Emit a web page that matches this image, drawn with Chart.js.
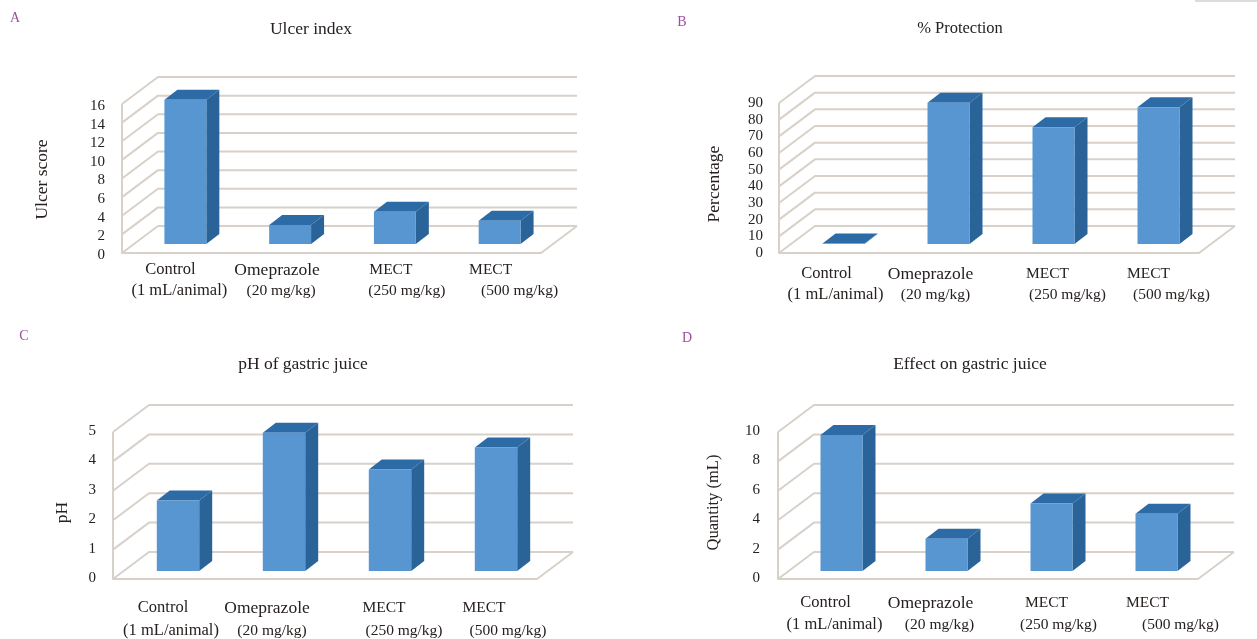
<!DOCTYPE html>
<html><head><meta charset="utf-8">
<script src="https://cdn.jsdelivr.net/npm/chart.js@4/dist/chart.umd.js"></script>
<style>
html,body{margin:0;padding:0;background:#fff;overflow:hidden;width:1257px;height:639px}
canvas{position:absolute}
.letter{position:absolute;font:14px "Liberation Serif",serif;color:#9c4f9e;transform:translate(-50%,-50%)}
#corner{position:absolute;left:1195px;top:0;width:62px;height:2px;background:#dcdcdc}
</style></head><body>
<div id="corner"></div>
<script>
const categoryNames = ["Control","Omeprazole","MECT","MECT"];
const categoryDoses = ["(1 mL/animal)","(20 mg/kg)","(250 mg/kg)","(500 mg/kg)"];
const ulcerScore = [15.5,2.05,3.45,2.5];
const protection = [0.3,84.8,70,82];
const gastricPh = [2.4,4.7,3.45,4.2];
const gastricQuantity = [9.25,2.2,4.6,3.9];

const nameFontSizes = [16.5,17.5,15.5,15.5];
const doseFontSizes = [16.5,15.5,15.5,15.5];
const FONT = "'Liberation Serif', serif";
const TEXT = "#26211f", WALL = "#d8d1ca", FRONT = "#5796d1", SIDE = "#2a6398", TOP = "#2d6ba6";

const wall3d = {
  id:"wall3d",
  afterLayout(chart,_a,o){
    const y = chart.scales.y;
    if(y._shifted) return; y._shifted = true;
    const title = y.drawTitle, labels = y.drawLabels;
    y.drawTitle = function(...a){const c=this.ctx;c.save();c.translate(0,o.titleShift);title.apply(this,a);c.restore();};
    y.drawLabels = function(...a){const c=this.ctx;c.save();c.translate(0,o.labelShift);labels.apply(this,a);c.restore();};
    const tb = chart.titleBlock, td = tb.draw;
    tb.draw = function(...a){const c=this.ctx;c.save();c.translate(o.chartTitleShift,0);td.apply(this,a);c.restore();};
  },
  beforeDatasetsDraw(chart,_a,o){
    const {ctx,chartArea:{left,right},scales:{x,y}} = chart;
    const base = y.getPixelForValue(y.min), top = y.getPixelForValue(y.max);
    ctx.save();
    ctx.strokeStyle = WALL; ctx.lineWidth = 2; ctx.lineJoin = "round";
    y.ticks.forEach(t=>{
      const p = y.getPixelForValue(t.value);
      ctx.beginPath(); ctx.moveTo(left,p); ctx.lineTo(left+o.wallDx,p+o.wallDy); ctx.lineTo(right+o.wallDx,p+o.wallDy); ctx.stroke();
    });
    ctx.beginPath(); ctx.moveTo(left,top); ctx.lineTo(left,base); ctx.lineTo(right,base); ctx.lineTo(right+o.wallDx,base+o.wallDy); ctx.stroke();
    ctx.restore();
    // axis category captions, two staggered rows
    ctx.save();
    ctx.fillStyle = TEXT; ctx.textAlign = "center"; ctx.textBaseline = "middle";
    x.ticks.forEach((t,i)=>{
      const c = x.getPixelForTick(i);
      ctx.font = nameFontSizes[i]+"px "+FONT;
      ctx.fillText(categoryNames[i], c+o.nameShift[i], o.nameY);
      ctx.font = doseFontSizes[i]+"px "+FONT;
      ctx.fillText(categoryDoses[i], c+o.doseShift[i], o.doseY);
    });
    ctx.restore();
  },
  beforeDatasetDraw(chart,args,o){
    const ctx = chart.ctx;
    ctx.save(); ctx.translate(o.barDx,o.barDy);
    args.meta.data.forEach(b=>{
      const l=b.x-b.width/2, r=b.x+b.width/2;
      ctx.fillStyle = SIDE;
      ctx.beginPath(); ctx.moveTo(r,b.y); ctx.lineTo(r+o.depthDx,b.y+o.depthDy); ctx.lineTo(r+o.depthDx,b.base+o.depthDy); ctx.lineTo(r,b.base); ctx.closePath(); ctx.fill();
      ctx.fillStyle = TOP;
      ctx.beginPath(); ctx.moveTo(l,b.y); ctx.lineTo(r,b.y); ctx.lineTo(r+o.depthDx,b.y+o.depthDy); ctx.lineTo(l+o.depthDx,b.y+o.depthDy); ctx.closePath(); ctx.fill();
    });
  },
  afterDatasetDraw(chart){ chart.ctx.restore(); }
};

function panel(p){
  const cv = document.createElement("canvas");
  cv.width = p.w; cv.height = p.h;
  cv.style.left = p.x+"px"; cv.style.top = p.y+"px";
  cv.style.width = p.w+"px"; cv.style.height = p.h+"px";
  document.body.appendChild(cv);
  const lbl = document.createElement("div");
  lbl.className = "letter"; lbl.textContent = p.letter;
  lbl.style.left = p.lx+"px"; lbl.style.top = p.ly+"px";
  document.body.appendChild(lbl);
  const titleY = p.titleY - p.y, chartTop = p.top - p.y, chartBottom = p.bottom - p.y;
  new Chart(cv,{
    type:"bar",
    data:{labels:categoryNames.map((n,i)=>n+" "+categoryDoses[i]),
      datasets:[{label:p.title,data:p.data,backgroundColor:FRONT,borderWidth:0,barPercentage:0.4,categoryPercentage:1,clip:false}]},
    plugins:[wall3d],
    options:{
      responsive:false,animation:false,devicePixelRatio:1,
      layout:{padding:{left:p.axisTitleX-p.x-10,right:p.x+p.w-p.right,top:0,bottom:0}},
      plugins:{
        legend:{display:false},tooltip:{enabled:false},
        title:{display:true,text:p.title,color:TEXT,font:{family:FONT,size:p.titleSize,weight:"normal",lineHeight:20/p.titleSize},
          padding:{top:titleY-10,bottom:chartTop-titleY-10}},
        wall3d:{wallDx:36,wallDy:-27,barDx:p.barDx,barDy:p.barDy,depthDx:13,depthDy:-10,
          chartTitleShift:p.titleX-((p.axisTitleX-10+p.right)/2),labelShift:p.labelShift,
          titleShift:p.titleShift,nameY:p.nameY-p.y,doseY:p.doseY-p.y,nameShift:p.nameShift,doseShift:p.doseShift}
      },
      scales:{
        x:{type:"category",grid:{display:false},border:{display:false},ticks:{display:false},
          afterFit(s){s.height=p.h-chartBottom;}},
        y:{min:0,max:p.max,grid:{display:false,drawTicks:false},border:{display:false},
          ticks:{stepSize:p.step,autoSkip:false,color:TEXT,padding:p.tickPad,font:{family:FONT,size:15}},
          title:{display:true,text:p.yTitle,color:TEXT,padding:0,font:{family:FONT,size:p.yTitleSize,lineHeight:20/p.yTitleSize}},
          afterFit(s){s.width=p.left-p.axisTitleX+10;}}
      }
    }
  });
}

panel({letter:"A",lx:15,ly:18,x:0,y:0,w:622,h:320,title:"Ulcer index",titleSize:17.5,titleX:311,titleY:29,yTitle:"Ulcer score",yTitleSize:17.5,axisTitleX:42,titleShift:1,labelShift:2,
  data:ulcerScore,max:16,step:2,left:122,right:541,top:104,bottom:253,barDx:11,barDy:-9,tickPad:17,
  nameY:270,doseY:291,nameShift:[-4,-2,7,2],doseShift:[5,2,23,31]});
panel({letter:"B",lx:682,ly:22,x:660,y:0,w:600,h:320,title:"% Protection",titleSize:16.5,titleX:960,titleY:29,yTitle:"Percentage",yTitleSize:17.5,axisTitleX:714,titleShift:6,labelShift:0,
  data:protection,max:90,step:10,left:779,right:1199,top:103,bottom:253,barDx:12,barDy:-9,tickPad:16,
  nameY:274,doseY:295,nameShift:[-5,-6,6,2],doseShift:[4,-1,26,25]});
panel({letter:"C",lx:24,ly:336,x:0,y:320,w:604,h:319,title:"pH of gastric juice",titleSize:17.5,titleX:303,titleY:364,yTitle:"pH",yTitleSize:17.5,axisTitleX:62,titleShift:7,labelShift:-1,
  data:gastricPh,max:5,step:1,left:113,right:537,top:432,bottom:579,barDx:12,barDy:-8,tickPad:17,
  nameY:608,doseY:631,nameShift:[-3,-5,6,0],doseShift:[5,0,26,24]});
panel({letter:"D",lx:687,ly:338,x:681,y:320,w:576,h:319,title:"Effect on gastric juice",titleSize:17.5,titleX:970,titleY:364,yTitle:"Quantity (mL)",yTitleSize:16.5,axisTitleX:714,titleShift:-3,labelShift:-1,
  data:gastricQuantity,max:10,step:2,left:778,right:1198,top:432,bottom:579,barDx:11,barDy:-8,tickPad:18,
  nameY:603,doseY:625,nameShift:[-5,-5,6,2],doseShift:[4,4,18,35]});
</script>
</body></html>
